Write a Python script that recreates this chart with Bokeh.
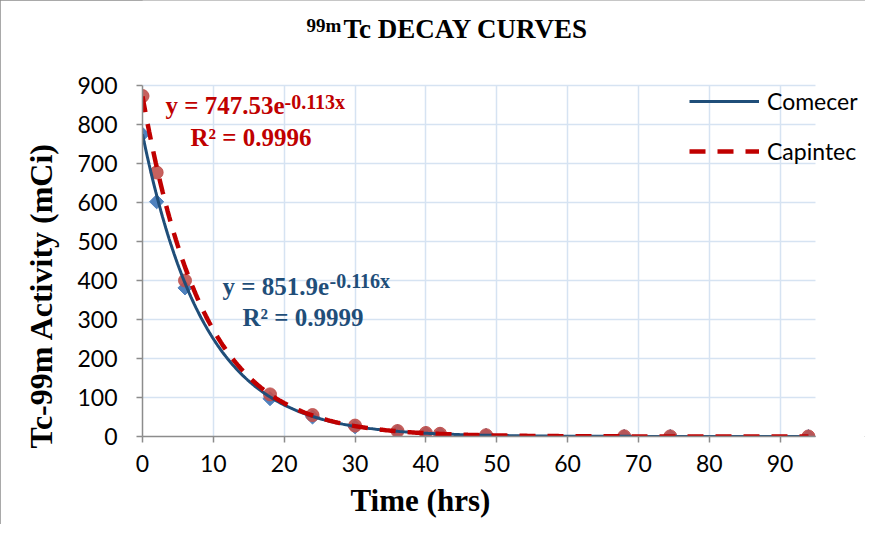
import numpy as np
from bokeh.plotting import figure
from bokeh.models import Label, Legend, LegendItem, Range1d, FixedTicker, Title
from bokeh.embed import file_html
from bokeh.resources import INLINE

# ---- data ----
time_hrs = [0, 2, 6, 18, 24, 30, 36, 40, 42, 48.5, 68, 74.5, 94]
comecer = [775, 602, 381, 97, 50, 25, 13, 8, 6, 3, 0.5, 0.3, 0.1]
capintec = [873, 677, 400, 108, 55, 28, 14, 9, 7, 3.3, 0.5, 0.3, 0.1]

# exponential curves as drawn (a * exp(-b x))
comecer_curve = (775.0, 0.113)
capintec_curve = (872.0, 0.116)

x_ticks = [0, 10, 20, 30, 40, 50, 60, 70, 80, 90]
y_ticks = [0, 100, 200, 300, 400, 500, 600, 700, 800, 900]
x_axis_end = 95
y_axis_end = 900

BLUE_LINE = "#1f4e79"
BLUE_MARK = "#4f81bd"
RED_LINE = "#c00000"
RED_MARK = "#c0504d"
SERIF = "Liberation Serif"
SANS = "Lato"

W, H = 865, 524
LEFT, BOTTOM = 142, 88          # frame left edge / space under frame
frame_w = W - LEFT
frame_h = H - BOTTOM
px_per_x = 673.0 / x_axis_end   # plot area 673 px wide for 0..95
px_per_y = 351.0 / y_axis_end   # plot area 351 px tall for 0..900

p = figure(width=W, height=H, output_backend="svg", toolbar_location=None,
           x_range=Range1d(0, frame_w / px_per_x),
           y_range=Range1d(0, frame_h / px_per_y),
           min_border_left=LEFT, min_border_right=0,
           min_border_top=0, min_border_bottom=BOTTOM)
p.outline_line_color = None
p.background_fill_color = "white"
p.border_fill_color = "white"
p.styles = {"outline": "1px solid #8c8c8c", "outline-offset": "-1px"}

for ax in (p.xaxis[0], p.yaxis[0]):
    ax.axis_line_color = "#8c8c8c"
    ax.axis_line_width = 1.5
    ax.major_tick_line_color = "#8c8c8c"
    ax.major_tick_line_width = 1.5
    ax.major_tick_in = 0
    ax.major_tick_out = 6
    ax.minor_tick_line_color = None
    ax.major_label_text_font = SANS
    ax.major_label_text_font_size = "23px"
    ax.major_label_text_color = "#000000"
p.xaxis.ticker = FixedTicker(ticks=x_ticks)
p.yaxis.ticker = FixedTicker(ticks=y_ticks)
p.xaxis.bounds = (0, x_axis_end)
p.yaxis.bounds = (0, y_axis_end)
p.xaxis.major_label_standoff = 12
p.yaxis.major_label_standoff = 19

p.xgrid.ticker = FixedTicker(ticks=x_ticks[1:])
p.ygrid.ticker = FixedTicker(ticks=y_ticks[1:])
for g in (p.xgrid[0], p.ygrid[0]):
    g.grid_line_color = "#d6e3f2"
    g.grid_line_width = 1.5
p.xgrid[0].cross_bounds = (0, y_axis_end)
p.ygrid[0].cross_bounds = (0, x_axis_end)

# markers
p.scatter(time_hrs, comecer, marker="square", angle=np.pi / 4, size=10,
          fill_color=BLUE_MARK, line_color=BLUE_MARK)
p.scatter(time_hrs, capintec, marker="circle", size=13,
          fill_color=RED_MARK, line_color=RED_MARK, fill_alpha=0.9, line_alpha=0.9)

xs = np.linspace(time_hrs[0], time_hrs[-1], 400)
r_blue = p.line(xs, comecer_curve[0] * np.exp(-comecer_curve[1] * xs),
                line_color=BLUE_LINE, line_width=3)
r_red = p.line(xs, capintec_curve[0] * np.exp(-capintec_curve[1] * xs),
               line_color=RED_LINE, line_width=4.5, line_dash="16 12")

legend = Legend(items=[LegendItem(label="Comecer", renderers=[r_blue]),
                       LegendItem(label="Capintec", renderers=[r_red])],
                location=(547, 271), glyph_width=70, glyph_height=20,
                label_height=20, spacing=22, padding=0, margin=0,
                label_standoff=8, border_line_color=None,
                background_fill_alpha=0,
                label_text_font=SANS, label_text_font_size="23px",
                label_text_color="#000000")
p.add_layout(legend, "center")


def lab(text, x, y, size, color="#000000", **kw):
    p.add_layout(Label(text=text, x=x, y=y, x_units="screen", y_units="screen",
                       text_font=SERIF, text_font_style="bold",
                       text_font_size=size, text_color=color, **kw))


# chart title (inside the tall frame, above the plot area)
lab("99m", 164, 401, "19px")
lab("Tc DECAY CURVES", 201, 393, "27px")

# equations
lab("y = 747.53e", 23, 318, "25px", RED_LINE)
lab("-0.113x", 142, 324, "20px", RED_LINE)
lab("R² = 0.9996", 48, 286, "25px", RED_LINE)

lab("y = 851.9e", 80, 137, "25px", BLUE_LINE)
lab("-0.116x", 187, 145, "20px", BLUE_LINE)
lab("R² = 0.9999", 100, 106, "25px", BLUE_LINE)

# axis titles
p.add_layout(Title(text="Tc-99m Activity (mCi)", align="left", offset=-12,
                   text_font=SERIF, text_font_style="bold", text_font_size="32px",
                   text_color="#000000", standoff=31), "left")
p.add_layout(Title(text="Time (hrs)", align="left", offset=208,
                   text_font=SERIF, text_font_style="bold", text_font_size="31px",
                   text_color="#000000", standoff=13), "below")

open("out.html", "w").write(file_html(p, INLINE))
